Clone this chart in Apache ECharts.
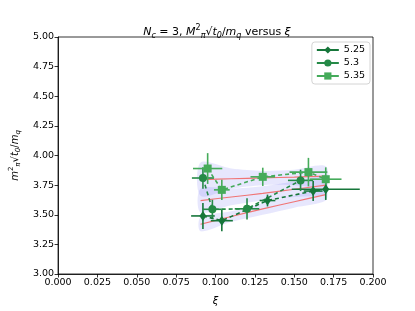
<!DOCTYPE html>
<html><head><meta charset="utf-8">
<script src="https://cdn.jsdelivr.net/npm/echarts@6/dist/echarts.min.js"></script>
<style>html,body{margin:0;padding:0;background:#fff}#c{width:415px;height:311px}</style>
</head><body><div id="c"></div>
<script>
// ---- data ----
const seriesNames = ['5.25', '5.3', '5.35'];
const b525_x    = [0.092, 0.104, 0.133, 0.162, 0.170];
const b525_y    = [3.49, 3.45, 3.62, 3.70, 3.715];
const b525_xerr = [0.0075, 0.007, 0.005, 0.006, 0.0216];
const b525_yerr = [0.11, 0.09, 0.05, 0.085, 0.09];

const b53_x    = [0.092, 0.098, 0.120, 0.154];
const b53_y    = [3.81, 3.546, 3.55, 3.79];
const b53_xerr = [0.007, 0.006, 0.0078, 0.008];
const b53_yerr = [0.09, 0.08, 0.09, 0.09];

const b535_x    = [0.095, 0.104, 0.130, 0.159, 0.170];
const b535_y    = [3.89, 3.71, 3.82, 3.86, 3.80];
const b535_xerr = [0.0093, 0.005, 0.0078, 0.012, 0.01];
const b535_yerr = [0.13, 0.085, 0.077, 0.12, 0.1];

// fit lines and error bands (read at a few xi values)
const fitX       = [0.0905, 0.110, 0.130, 0.150, 0.170];
const fitA_mid   = [3.797, 3.804, 3.811, 3.818, 3.826];
const fitA_lo    = [3.66, 3.72, 3.75, 3.75, 3.74];
const fitA_hi    = [3.94, 3.89, 3.87, 3.88, 3.91];
const fitB_mid   = [3.62, 3.65, 3.68, 3.715, 3.75];
const fitB_lo    = [3.52, 3.58, 3.62, 3.65, 3.68];
const fitB_hi    = [3.72, 3.72, 3.74, 3.78, 3.82];
const fitC_mid   = [3.42, 3.485, 3.55, 3.61, 3.67];
const fitC_lo    = [3.36, 3.44, 3.50, 3.56, 3.62];
const fitC_hi    = [3.48, 3.53, 3.60, 3.66, 3.72];

const yTicks = [3.00, 3.25, 3.50, 3.75, 4.00, 4.25, 4.50, 4.75, 5.00];
const xTicks = [0.000, 0.025, 0.050, 0.075, 0.100, 0.125, 0.150, 0.175, 0.200];

// ---- styles ----
const colors = ['#16763a', '#258a47', '#45ab5a'];
const symbols = ['diamond', 'circle', 'rect'];
const symSizes = [[7, 10], 8, 8];
const FONT = 'DejaVu Sans';

function zip(a, b) { return a.map((v, i) => [v, b[i]]); }
function errData(x, y, xe, ye) { return x.map((v, i) => [v, y[i], xe[i], ye[i]]); }

function errSeries(data, color) {
  return {
    type: 'custom', z: 3, silent: true,
    data: data,
    renderItem: function (params, api) {
      const x = api.value(0), y = api.value(1), xe = api.value(2), ye = api.value(3);
      const l = api.coord([x - xe, y]), r = api.coord([x + xe, y]);
      const b = api.coord([x, y - ye]), t = api.coord([x, y + ye]);
      const st = { stroke: color, lineWidth: 1.6 };
      return { type: 'group', children: [
        { type: 'line', shape: { x1: l[0], y1: l[1], x2: r[0], y2: r[1] }, style: st },
        { type: 'line', shape: { x1: b[0], y1: b[1], x2: t[0], y2: t[1] }, style: st }
      ]};
    }
  };
}

function bandSeries(xs, lo, hi) {
  return {
    type: 'custom', z: 1, silent: true,
    data: [[xs[0], lo[0]]],
    renderItem: function (params, api) {
      const pts = [];
      for (let i = 0; i < xs.length; i++) pts.push(api.coord([xs[i], hi[i]]));
      for (let i = xs.length - 1; i >= 0; i--) pts.push(api.coord([xs[i], lo[i]]));
      return { type: 'polygon', shape: { points: pts, smooth: 0.3 },
        style: { fill: 'rgba(110,110,245,0.17)' } };
    }
  };
}

function fitLine(xs, ys) {
  return { type: 'line', z: 2, silent: true, data: zip(xs, ys), symbol: 'none', smooth: 0.3,
    lineStyle: { color: '#f07474', width: 1.2 } };
}

function dataSeries(idx, x, y) {
  return {
    name: seriesNames[idx], type: 'line', z: 4,
    data: zip(x, y),
    symbol: symbols[idx], symbolSize: symSizes[idx],
    itemStyle: { color: colors[idx] },
    lineStyle: { color: colors[idx], width: 1.6, type: [4, 3] }
  };
}

const rich = {
  n:  { fontFamily: FONT, fontSize: 11, color: '#000', lineHeight: 16 },
  i:  { fontFamily: FONT, fontSize: 11, fontStyle: 'italic', color: '#000', lineHeight: 16 },
  sub:{ fontFamily: FONT, fontSize: 8, fontStyle: 'italic', color: '#000', verticalAlign: 'bottom', lineHeight: 16 },
  sup:{ fontFamily: FONT, fontSize: 8, color: '#000', verticalAlign: 'top', lineHeight: 16 }
};
const richY = {
  n:  { fontFamily: FONT, fontSize: 10, color: '#000', lineHeight: 14 },
  i:  { fontFamily: FONT, fontSize: 10, fontStyle: 'italic', color: '#000', lineHeight: 14 },
  sub:{ fontFamily: FONT, fontSize: 7, fontStyle: 'italic', color: '#000', verticalAlign: 'bottom', lineHeight: 14 },
  sup:{ fontFamily: FONT, fontSize: 7, color: '#000', verticalAlign: 'top', lineHeight: 14 }
};

const chart = echarts.init(document.getElementById('c'), null, { renderer: 'canvas' });
chart.setOption({
  animation: false,
  backgroundColor: '#fff',
  title: {
    text: '{i|N}{sub|c}{n| = 3, }{i|M}{sup|2}{sub|π}{n|√}{i|t}{sub|0}{n|/}{i|m}{sub|q}{n| versus }{i|ξ}',
    left: 212, top: 19, textAlign: 'center',
    textStyle: { rich: rich, fontFamily: FONT, fontSize: 11, fontWeight: 'normal' }
  },
  legend: {
    data: seriesNames, orient: 'vertical', right: 45, top: 42,
    itemWidth: 22, itemHeight: 9, itemGap: 3,
    padding: [3, 5, 3, 4], borderColor: '#d4d4d4', borderWidth: 1, borderRadius: 3,
    textStyle: { fontFamily: FONT, fontSize: 9.5, color: '#000' },
    lineStyle: { type: 'solid' }
  },
  grid: { left: 52, right: 42, top: 37, bottom: 35, show: true, borderColor: '#000', borderWidth: 0.8, backgroundColor: 'transparent' },
  xAxis: {
    type: 'value', min: xTicks[0], max: xTicks[xTicks.length - 1], interval: 0.025,
    name: '{i|ξ}', nameLocation: 'middle', nameGap: 20,
    nameTextStyle: { rich: richY },
    axisLine: { show: true, lineStyle: { color: '#000', width: 0.8 } },
    axisTick: { show: true, length: 3.5, lineStyle: { color: '#000', width: 0.8 } },
    axisLabel: { fontFamily: FONT, fontSize: 9.5, color: '#000', margin: 4, formatter: v => v.toFixed(3) },
    splitLine: { show: false }
  },
  yAxis: {
    type: 'value', min: yTicks[0], max: yTicks[yTicks.length - 1], interval: 0.25,
    name: '{i|m}{sup|2}{sub|π}{n|√}{i|t}{sub|0}{n|/}{i|m}{sub|q}', nameLocation: 'middle', nameGap: 36, nameRotate: 90,
    nameTextStyle: { rich: richY },
    axisLine: { show: true, lineStyle: { color: '#000', width: 0.8 } },
    axisTick: { show: true, length: 3.5, lineStyle: { color: '#000', width: 0.8 } },
    axisLabel: { fontFamily: FONT, fontSize: 9.5, color: '#000', margin: 4, formatter: v => v.toFixed(2) },
    splitLine: { show: false }
  },
  series: [
    bandSeries(fitX, fitA_lo, fitA_hi),
    bandSeries(fitX, fitB_lo, fitB_hi),
    bandSeries(fitX, fitC_lo, fitC_hi),
    fitLine(fitX, fitA_mid),
    fitLine(fitX, fitB_mid),
    fitLine(fitX, fitC_mid),
    errSeries(errData(b525_x, b525_y, b525_xerr, b525_yerr), colors[0]),
    errSeries(errData(b53_x, b53_y, b53_xerr, b53_yerr), colors[1]),
    errSeries(errData(b535_x, b535_y, b535_xerr, b535_yerr), colors[2]),
    dataSeries(0, b525_x, b525_y),
    dataSeries(1, b53_x, b53_y),
    dataSeries(2, b535_x, b535_y)
  ]
});
</script>
</body></html>
